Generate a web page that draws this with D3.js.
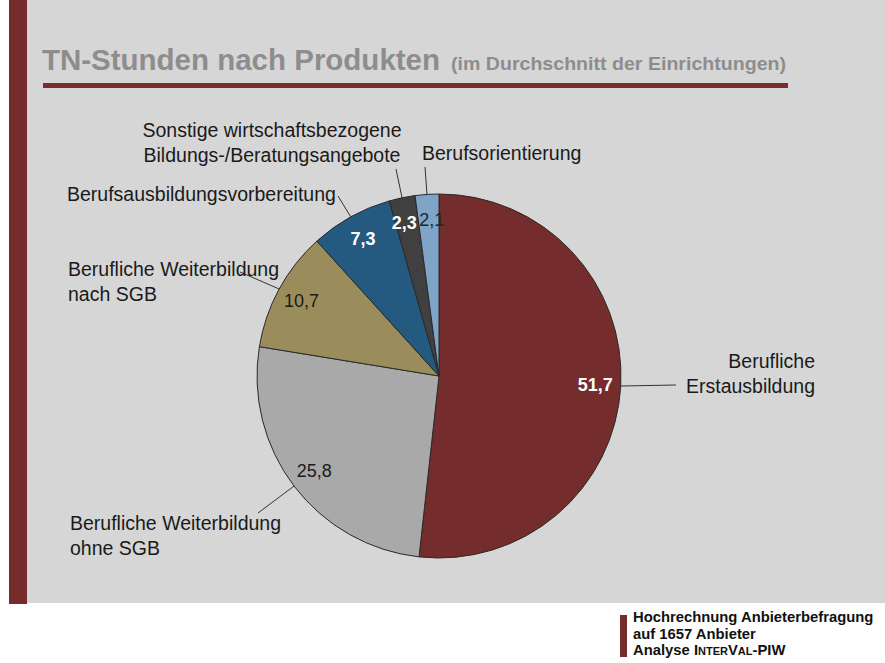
<!DOCTYPE html>
<html>
<head>
<meta charset="utf-8">
<script src="https://cdn.jsdelivr.net/npm/d3@7"></script>
<style>
  body { margin: 0; background: #fff; }
  text { font-family: "Liberation Sans", Arial, Helvetica, sans-serif; }
</style>
</head>
<body>
<div id="chart"></div>
<script>
// Data
let categories = [
    'Berufliche Erstausbildung',
    'Berufliche Weiterbildung ohne SGB',
    'Berufliche Weiterbildung nach SGB',
    'Berufsausbildungsvorbereitung',
    'Sonstige wirtschaftsbezogene Bildungs-/Beratungsangebote',
    'Berufsorientierung'
];
let values = [51.7, 25.8, 10.7, 7.3, 2.3, 2.1];
let labelLines = [
    ['Berufliche', 'Erstausbildung'],
    ['Berufliche Weiterbildung', 'ohne SGB'],
    ['Berufliche Weiterbildung', 'nach SGB'],
    ['Berufsausbildungsvorbereitung'],
    ['Sonstige wirtschaftsbezogene', 'Bildungs-/Beratungsangebote'],
    ['Berufsorientierung']
];
let footerLines = ['Hochrechnung Anbieterbefragung', 'auf 1657 Anbieter'];

// Styles
let colors = ['#742c2c', '#a9a9a9', '#9b8c5c', '#255a80', '#404040', '#7fa4c5'];
let valueColors = ['#fff', '#1a1a1a', '#1a1a1a', '#fff', '#fff', '#1a2638'];
let valueWeights = ['bold', 'normal', 'normal', 'bold', 'bold', 'normal'];
// small horizontal nudge for the two thin slices so their numbers don't collide
let valueNudge = [0, 0, 0, 0, -3, 3];

// label placement: [x, y of first line, anchor, leader end x, leader end y]
let labelPos = [
    [815, 368, 'end', 676, 385],
    [70, 530, 'start', 258, 513],
    [68, 276, 'start', 240, 272],
    [67, 201, 'start', 338, 196],
    [272, 137, 'middle', 396, 169],
    [422, 160, 'start', 425, 167]
];

let width = 885, height = 663;
let cx = 439, cy = 376, radius = 182;

let svg = d3.select('#chart')
    .append('svg')
    .attr('width', width)
    .attr('height', height);

// Background panel
svg.append('rect')
    .attr('x', 9).attr('y', 0)
    .attr('width', width - 9).attr('height', 603)
    .attr('fill', '#d6d6d6');
svg.append('rect')
    .attr('x', 9).attr('y', 0)
    .attr('width', 18).attr('height', 604)
    .attr('fill', '#762b2c');

// Title
svg.append('text')
    .attr('x', 42).attr('y', 70)
    .attr('font-size', 29)
    .attr('font-weight', 'bold')
    .attr('fill', '#8d8d8d')
    .attr('textLength', 398)
    .attr('lengthAdjust', 'spacingAndGlyphs')
    .text('TN-Stunden nach Produkten');
svg.append('text')
    .attr('x', 451).attr('y', 70)
    .attr('font-size', 19)
    .attr('font-weight', 'bold')
    .attr('fill', '#8d8d8d')
    .attr('textLength', 335)
    .attr('lengthAdjust', 'spacingAndGlyphs')
    .text('(im Durchschnitt der Einrichtungen)');
svg.append('rect')
    .attr('x', 43).attr('y', 83)
    .attr('width', 745).attr('height', 5)
    .attr('fill', '#7a2b2d');

// Pie
let pie = d3.pie().sort(null).value(function (d) { return d; });
let arcs = pie(values);
let arc = d3.arc().innerRadius(0).outerRadius(radius);
let labelArc = d3.arc().innerRadius(radius * 0.86).outerRadius(radius * 0.86);
let edgeArc = d3.arc().innerRadius(radius).outerRadius(radius);

let g = svg.append('g')
    .attr('transform', 'translate(' + cx + ',' + cy + ')');

g.selectAll('path.slice')
    .data(arcs)
    .enter()
    .append('path')
    .attr('class', 'slice')
    .attr('d', arc)
    .attr('fill', function (d, i) { return colors[i]; })
    .attr('stroke', '#2a2a2a')
    .attr('stroke-width', 1);

// Leader lines
g.selectAll('line.leader')
    .data(arcs)
    .enter()
    .append('line')
    .attr('class', 'leader')
    .attr('x1', function (d) { return edgeArc.centroid(d)[0]; })
    .attr('y1', function (d) { return edgeArc.centroid(d)[1]; })
    .attr('x2', function (d, i) { return labelPos[i][3] - cx; })
    .attr('y2', function (d, i) { return labelPos[i][4] - cy; })
    .attr('stroke', '#333')
    .attr('stroke-width', 1);

// Value labels
g.selectAll('text.value')
    .data(arcs)
    .enter()
    .append('text')
    .attr('class', 'value')
    .attr('x', function (d, i) { return labelArc.centroid(d)[0] + valueNudge[i]; })
    .attr('y', function (d) { return labelArc.centroid(d)[1]; })
    .attr('dy', '0.35em')
    .attr('text-anchor', 'middle')
    .attr('font-size', 18)
    .attr('font-weight', function (d, i) { return valueWeights[i]; })
    .attr('fill', function (d, i) { return valueColors[i]; })
    .text(function (d) { return d3.format('.1f')(d.data).replace('.', ','); });

// Category labels
labelLines.forEach(function (lines, i) {
    let p = labelPos[i];
    let t = svg.append('text')
        .attr('x', p[0]).attr('y', p[1])
        .attr('text-anchor', p[2])
        .attr('font-size', 19.5)
        .attr('fill', '#1a1a1a');
    lines.forEach(function (l, j) {
        t.append('tspan')
            .attr('x', p[0])
            .attr('dy', j === 0 ? 0 : 24.5)
            .text(l);
    });
});

// Footer
svg.append('rect')
    .attr('x', 620).attr('y', 615)
    .attr('width', 7).attr('height', 42)
    .attr('fill', '#762b2c');
let ft = svg.append('text')
    .attr('x', 633).attr('y', 622)
    .attr('font-size', 14.8)
    .attr('font-weight', 'bold')
    .attr('fill', '#111');
footerLines.forEach(function (l, j) {
    ft.append('tspan').attr('x', 633).attr('dy', j === 0 ? 0 : 16.5).text(l);
});
ft.append('tspan').attr('x', 633).attr('dy', 16.5).text('Analyse ');
ft.append('tspan').text('I');
ft.append('tspan').attr('font-size', 11).text('NTER');
ft.append('tspan').text('V');
ft.append('tspan').attr('font-size', 11).text('AL');
ft.append('tspan').text('-PIW');
</script>
</body>
</html>
